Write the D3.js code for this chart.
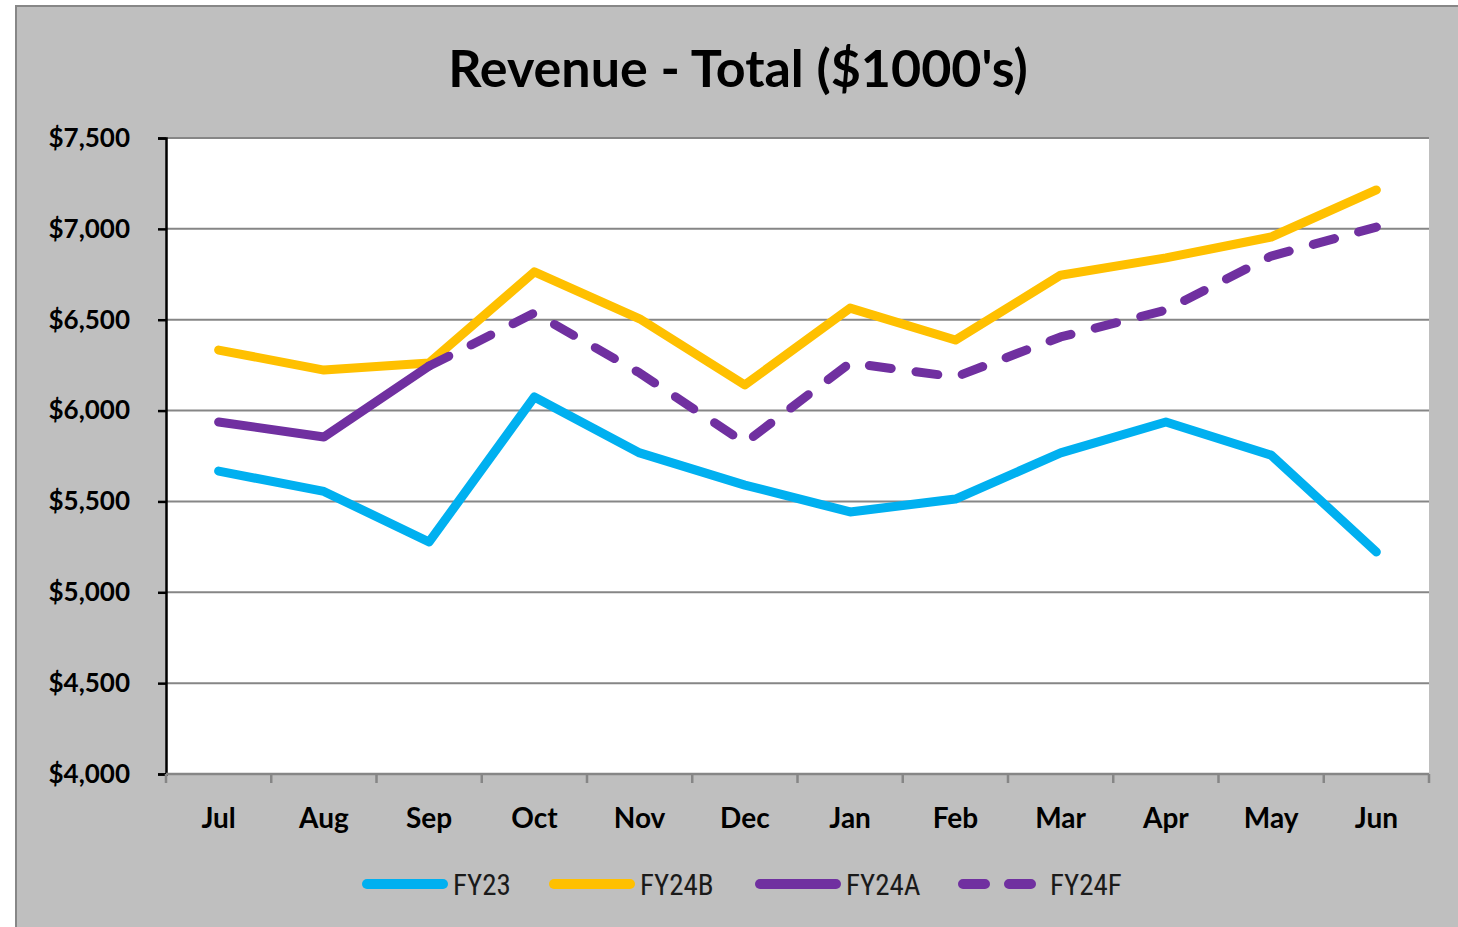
<!DOCTYPE html>
<html>
  <head>
    <meta charset="utf-8" />
    <script src="https://cdn.jsdelivr.net/npm/d3@7"></script>
    <style>
        body { margin: 0; background: #ffffff; }
        text { font-family: Lato, "Open Sans", sans-serif; fill: #000; }
        .grid line { stroke: #868686; stroke-width: 2; }
        .legend text { font-family: "Liberation Sans Narrow", "Roboto Condensed", Roboto, sans-serif; fill: #1a1a1a; }
    </style>
  </head>
  <body>
    <svg width="1458" height="927"></svg>

    <script type="text/javascript">
        var months = ["Jul","Aug","Sep","Oct","Nov","Dec","Jan","Feb","Mar","Apr","May","Jun"];
        var fy23  = [5667, 5555, 5277, 6075, 5767, 5590, 5442, 5513, 5767, 5937, 5755, 5222];
        var fy24b = [6333, 6223, 6262, 6763, 6505, 6141, 6564, 6388, 6745, 6840, 6955, 7214];
        var fy24a = [5937, 5855, 6245, null, null, null, null, null, null, null, null, null];
        var fy24f = [null, null, 6245, 6537, 6207, 5822, 6262, 6185, 6405, 6553, 6850, 7010];
        var yTicks = [4000, 4500, 5000, 5500, 6000, 6500, 7000, 7500];

        var series = [
            { name: "FY23",  values: fy23,  color: "#00B0F0", dash: null },
            { name: "FY24B", values: fy24b, color: "#FFC000", dash: null },
            { name: "FY24A", values: fy24a, color: "#7030A0", dash: null },
            { name: "FY24F", values: fy24f, color: "#7030A0", dash: "22,25" }
        ];

        var svg = d3.select("svg");

        // chart background
        svg.append("rect")
            .attr("x", 16).attr("y", 6)
            .attr("width", 1460).attr("height", 940)
            .attr("fill", "#BFBFBF")
            .attr("stroke", "#878787")
            .attr("stroke-width", 2);

        var pLeft = 166, pRight = 1429, pTop = 138, pBottom = 774;

        var x = d3.scaleBand().domain(months).range([pLeft, pRight]).padding(0);
        var y = d3.scaleLinear().domain([4000, 7500]).range([pBottom, pTop]);

        svg.append("rect")
            .attr("x", pLeft).attr("y", pTop)
            .attr("width", pRight - pLeft).attr("height", pBottom - pTop)
            .attr("fill", "#fff");

        // gridlines
        svg.append("g").attr("class", "grid")
            .selectAll("line")
            .data(yTicks.slice(1))
            .enter()
            .append("line")
            .attr("x1", pLeft).attr("x2", pRight)
            .attr("y1", function(d) { return y(d); })
            .attr("y2", function(d) { return y(d); });

        // title
        svg.append("text")
            .attr("x", 738).attr("y", 87)
            .attr("text-anchor", "middle")
            .attr("font-size", 52)
            .attr("font-weight", "bold")
            .text("Revenue - Total ($1000's)");

        // y axis
        var yAxis = d3.axisLeft(y)
            .tickValues(yTicks)
            .tickSize(8)
            .tickPadding(28)
            .tickFormat(function(d) { return "$" + d3.format(",")(d); });

        var gy = svg.append("g")
            .attr("transform", "translate(" + pLeft + ",0)")
            .call(yAxis);
        gy.select(".domain").attr("stroke", "#000").attr("stroke-width", 2.5);
        gy.selectAll(".tick line").attr("stroke", "#000").attr("stroke-width", 2.5);
        gy.selectAll(".tick text")
            .attr("font-size", 26)
            .attr("font-weight", "bold")
            .attr("font-family", "Lato, sans-serif");

        // x axis
        var xAxis = d3.axisBottom(x).tickSize(0).tickPadding(34);
        var gx = svg.append("g")
            .attr("transform", "translate(0," + pBottom + ")")
            .call(xAxis);
        gx.select(".domain").remove();
        gx.selectAll(".tick text")
            .attr("font-size", 28)
            .attr("font-weight", "bold")
            .attr("font-family", "Lato, sans-serif");

        var bounds = months.map(function(m) { return x(m); }).concat([pRight]);
        svg.append("line")
            .attr("x1", pLeft).attr("x2", pRight)
            .attr("y1", pBottom).attr("y2", pBottom)
            .attr("stroke", "#868686").attr("stroke-width", 2.5);
        svg.append("g").selectAll("line")
            .data(bounds)
            .enter()
            .append("line")
            .attr("x1", function(d) { return d; })
            .attr("x2", function(d) { return d; })
            .attr("y1", pBottom).attr("y2", pBottom + 9)
            .attr("stroke", "#868686").attr("stroke-width", 2.5);

        // lines
        var line = d3.line()
            .defined(function(d) { return d != null; })
            .x(function(d, i) { return x(months[i]) + x.bandwidth() / 2; })
            .y(function(d) { return y(d); });

        svg.append("g").selectAll("path")
            .data(series)
            .enter()
            .append("path")
            .attr("d", function(s) { return line(s.values); })
            .attr("fill", "none")
            .attr("stroke", function(s) { return s.color; })
            .attr("stroke-width", 9)
            .attr("stroke-linecap", "round")
            .attr("stroke-linejoin", "round")
            .attr("stroke-dasharray", function(s) { return s.dash; });

        // legend
        var legendX = [362, 549, 755, 958];
        var lg = svg.append("g").attr("class", "legend")
            .selectAll("g")
            .data(series)
            .enter()
            .append("g")
            .attr("transform", function(d, i) { return "translate(" + legendX[i] + ",884)"; });

        lg.append("line")
            .attr("x1", 5).attr("x2", 81)
            .attr("y1", 0).attr("y2", 0)
            .attr("stroke", function(s) { return s.color; })
            .attr("stroke-width", 10)
            .attr("stroke-linecap", "round")
            .attr("stroke-dasharray", function(s) { return s.dash ? "22,24" : null; });

        lg.append("text")
            .attr("x", function(s, i) { return i == 3 ? 92 : 91; })
            .attr("y", 11)
            .attr("font-size", 29)
            .text(function(s) { return s.name; });
    </script>
  </body>
</html>
